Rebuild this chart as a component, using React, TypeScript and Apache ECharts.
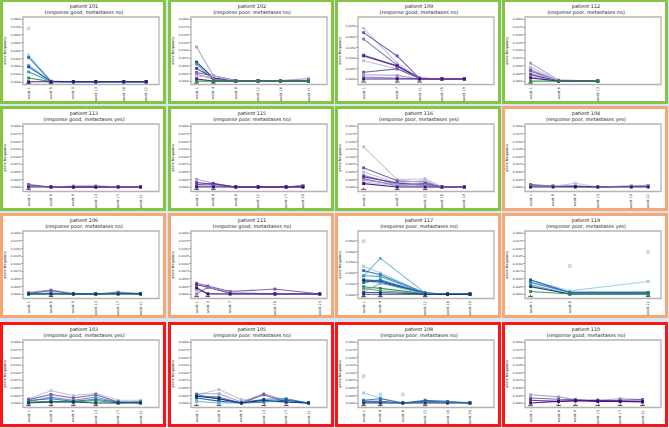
import React, { useEffect, useRef } from "react";
import * as echarts from "echarts";

// ---------- colours ----------
const P1 = "#3f007d", P2 = "#54278f", P3 = "#6a51a3", P4 = "#807dba", P5 = "#9e9ac8", P6 = "#bcbddc";
const B1 = "#08306b", B2 = "#08519c", B3 = "#2171b5", B4 = "#4292c6", B5 = "#6baed6", B6 = "#9ecae1";
const G1 = "#238b45", G2 = "#41ab5d";

// ---------- titles ----------
const patientIds = ["101", "102", "109", "112", "113", "115", "116", "104", "106", "111", "117", "119", "103", "105", "108", "110"];
const patientInfo = [
  "response good, metastases no", "response poor, metastases no", "response good, metastases no", "response poor, metastases no",
  "response good, metastases yes", "response poor, metastases no", "response poor, metastases yes", "response poor, metastases yes",
  "response poor, metastases no", "response good, metastases no", "response poor, metastases no", "response poor, metastases yes",
  "response good, metastases yes", "response poor, metastases no", "response poor, metastases no", "response good, metastases no",
];
const patientGroup = ["g", "g", "g", "g", "g", "g", "g", "o", "o", "o", "o", "o", "r", "r", "r", "r"];

// ---------- y tick sets ----------
const ticksDefault = [0, 0.0025, 0.005, 0.0075, 0.01, 0.0125, 0.015, 0.0175, 0.02];
const ticks101 = [0, 0.01, 0.02, 0.03, 0.04, 0.05, 0.06, 0.07, 0.08];
const ticks109 = [0, 0.005, 0.01, 0.015, 0.02, 0.025];
const ticks117 = [0, 0.01, 0.02, 0.03, 0.04, 0.05];

// ---------- patient 101 ----------
const p101Weeks = [1, 5, 9, 13, 18, 22];
const p101Colors = [B6, B3, B5, B2, B4, G1, P1];
const p101Values = [
  [0.034, 0.0008, 0, 0, 0, 0],
  [0.031, 0.0005, 0, 0, 0, 0],
  [0.021, 0.0005, 0, 0, 0, 0],
  [0.019, 0.0003, 0, 0, 0, 0],
  [0.0126, 0.0003, 0, 0, 0, 0],
  [0.0048, 0.0002, 0, 0, 0, 0],
  [0, 0, 0, 0, 0, 0],
];
const p101Points = [[1, 0.068]];
const p101Marks = [1, 5];

// ---------- patient 102 ----------
const p102Weeks = [1, 4, 8, 12, 16, 21];
const p102Colors = [P5, B1, B4, P2, P3, P4, P6, P1, G1];
const p102Values = [
  [0.011, 0.0017, 0.0002, 0.0002, 0.0002, 0.0008],
  [0.0061, 0.001, 0, 0.0002, 0.0002, 0],
  [0.0055, 0.0004, 0, 0, 0, 0],
  [0.0041, 0.001, 0, 0.0002, 0.0002, 0],
  [0.0028, 0.0017, 0.0002, 0, 0, 0],
  [0.0023, 0.0006, 0, 0, 0, 0],
  [0.0014, 0.0017, 0, 0, 0, 0],
  [0.0007, 0, 0, 0, 0, 0],
  [0, 0, 0, 0, 0, 0],
];
const p102Points: number[][] = [];
const p102Marks = [1, 4];

// ---------- patient 109 ----------
const p109Weeks = [1, 7, 11, 15, 19];
const p109Colors = [P6, P3, P4, P2, P2, P6, P3, P5, P4, P1];
const p109Values = [
  [0.0239, 0.0075, 0.0004, 0, 0],
  [0.0219, 0.0109, 0.0003, 0, 0],
  [0.0189, 0.0065, 0.0002, 0, 0],
  [0.0112, 0.0063, 0.0005, 0, 0],
  [0.0109, 0.006, 0.0003, 0, 0],
  [0.0086, 0.0048, 0.0004, 0, 0],
  [0.0032, 0.0048, 0.0002, 0, 0],
  [0.002, 0.0017, 0, 0, 0],
  [0.0009, 0.0005, 0, 0, 0],
  [0, 0, 0, 0, 0],
];
const p109Points: number[][] = [];
const p109Marks = [1, 7, 11];

// ---------- patient 112 ----------
const p112Weeks = [1, 6, 13];
const p112Colors = [P5, P6, P4, P3, P6, P2, P5, P1, G1];
const p112Values = [
  [0.0058, 0.0003, 0],
  [0.0045, 0.0002, 0],
  [0.0037, 0, 0],
  [0.0032, 0, 0],
  [0.0025, 0.0003, 0],
  [0.0021, 0, 0],
  [0.0014, 0, 0],
  [0.001, 0, 0],
  [0, 0, 0],
];
const p112Points: number[][] = [];
const p112Marks = [1];

// ---------- patient 113 ----------
const p113Weeks = [1, 5, 9, 13, 17, 21];
const p113Colors = [P3, P2, P6, P1];
const p113Values = [
  [0.0008, 0, 0, 0, 0, 0],
  [0.0005, 0, 0, 0, 0, 0],
  [0.0003, 0, 0.0004, 0.0005, 0, 0],
  [0, 0, 0, 0, 0, 0],
];
const p113Points: number[][] = [];
const p113Marks = [1];

// ---------- patient 115 ----------
const p115Weeks = [1, 4, 8, 12, 17, 20];
const p115Colors = [P5, P3, P2, P4, P1];
const p115Values = [
  [0.0025, 0.0012, 0, 0, 0, 0.0004],
  [0.0015, 0.0008, 0, 0, 0, 0.0003],
  [0.0008, 0.0011, 0, 0, 0, 0],
  [0.0003, 0.0004, 0, 0, 0, 0.0005],
  [0, 0, 0, 0, 0, 0],
];
const p115Points: number[][] = [];
const p115Marks = [1, 4];

// ---------- patient 116 ----------
const p116Weeks = [1, 7, 12, 15, 19];
const p116Colors = [P6, P3, P6, P4, P2, P3, P5, P6, P1];
const p116Values = [
  [0.0132, 0.0024, 0.0027, 0, 0],
  [0.0063, 0.002, 0.0016, 0, 0],
  [0.0049, 0.0013, 0.0022, 0, 0],
  [0.0038, 0.0009, 0.0011, 0, 0],
  [0.0033, 0.0013, 0.0005, 0, 0],
  [0.0027, 0.0004, 0.0011, 0, 0],
  [0.0022, 0.0009, 0.0005, 0, 0],
  [0.0016, 0.0004, 0, 0, 0],
  [0.0011, 0, 0, 0, 0],
];
const p116Points: number[][] = [];
const p116Marks = [1, 7, 12];

// ---------- patient 104 ----------
const p104Weeks = [1, 5, 9, 13, 19, 22];
const p104Colors = [G1, P3, P6, P1];
const p104Values = [
  [0.0008, 0.0003, 0.0002, 0, 0.0002, 0.0002],
  [0.0005, 0.0003, 0.0003, 0, 0.0003, 0.0005],
  [0.0002, 0.0002, 0.0012, 0, 0.0004, 0.0003],
  [0, 0, 0, 0, 0, 0],
];
const p104Points: number[][] = [];
const p104Marks: number[] = [];

// ---------- patient 106 ----------
const p106Weeks = [1, 5, 9, 13, 17, 21];
const p106Colors = [P5, P3, B4, G1, B1];
const p106Values = [
  [0.0005, 0.0013, 0.0002, 0, 0.0006, 0.0002],
  [0.0002, 0.0011, 0, 0, 0.0004, 0],
  [0, 0.0003, 0, 0, 0.0003, 0],
  [0, 0, 0, 0, 0, 0.0001],
  [0, 0, 0, 0, 0, 0],
];
const p106Points: number[][] = [];
const p106Marks = [5];

// ---------- patient 111 ----------
const p111Weeks = [1, 3, 7, 15, 23];
const p111Colors = [P3, P2, P5, P4, P1];
const p111Values = [
  [0.0035, 0.0026, 0.0008, 0.0016, 0],
  [0.003, 0.0022, 0.0002, 0, 0],
  [0.0013, 0.0002, 0, 0, 0],
  [0, 0.0022, 0.0004, 0, 0],
  [0.002, 0, 0, 0, 0],
];
const p111Points: number[][] = [];
const p111Marks = [1, 3];

// ---------- patient 117 ----------
const p117Weeks = [1, 4, 12, 16, 20];
const p117Colors = [B6, B5, B3, B4, B2, B1, B3, G1, G2, B5, P2, B1];
const p117Values = [
  [0.0261, 0.0197, 0.0012, 0, 0],
  [0.0172, 0.0334, 0.0012, 0, 0],
  [0.022, 0.0182, 0.001, 0, 0],
  [0.0172, 0.0166, 0.0008, 0, 0],
  [0.0134, 0.0124, 0.001, 0, 0],
  [0.0124, 0.0111, 0.0008, 0, 0],
  [0.0108, 0.0134, 0.0006, 0, 0],
  [0.007, 0.0054, 0.0005, 0, 0],
  [0.0054, 0.0032, 0.0003, 0, 0],
  [0.0022, 0.0102, 0.0005, 0, 0],
  [0.0016, 0.0016, 0.0002, 0, 0],
  [0, 0, 0, 0, 0],
];
const p117Points = [[1, 0.0494]];
const p117Marks = [1, 4, 12];

// ---------- patient 119 ----------
const p119Weeks = [1, 8, 22];
const p119Colors = [B6, B2, B3, B4, B1, G1];
const p119Values = [
  [0.0046, 0.001, 0.0041],
  [0.0046, 0.0005, 0.0005],
  [0.0038, 0.0005, 0.0005],
  [0.003, 0, 0.0002],
  [0.0024, 0, 0],
  [0.0008, 0, 0],
];
const p119Points = [[8, 0.0092], [22, 0.0137]];
const p119Marks = [1, 22];

// ---------- patient 103 ----------
const p103Weeks = [1, 5, 9, 13, 17, 21];
const p103Colors = [P6, P3, P4, B3, G1, B1];
const p103Values = [
  [0.0014, 0.004, 0.0024, 0.0032, 0.0009, 0.0009],
  [0.0011, 0.0028, 0.0016, 0.0027, 0.0003, 0.0003],
  [0.0005, 0.0019, 0.0009, 0.0019, 0.0002, 0.0002],
  [0.0008, 0.0014, 0.0005, 0.0012, 0.0003, 0],
  [0.0003, 0.0005, 0.0003, 0.0008, 0, 0.0003],
  [0, 0.0003, 0.0003, 0, 0, 0],
];
const p103Points: number[][] = [];
const p103Marks = [1, 5, 9, 13];

// ---------- patient 105 ----------
const p105Weeks = [1, 5, 9, 13, 17, 21];
const p105Colors = [P6, P5, P3, B3, B2, B5, B1];
const p105Values = [
  [0.0027, 0.0044, 0.0011, 0.0006, 0.0003, 0],
  [0.003, 0.003, 0.0003, 0.003, 0.0009, 0],
  [0.0022, 0.0019, 0, 0.0027, 0.0003, 0],
  [0.0027, 0.0014, 0, 0.0012, 0.0014, 0],
  [0.0016, 0.0006, 0, 0.0003, 0.0009, 0],
  [0.0005, 0, 0, 0.0006, 0.0003, 0],
  [0.0022, 0.0014, 0, 0.0009, 0.0003, 0],
];
const p105Points: number[][] = [];
const p105Marks = [1, 5, 13, 17];

// ---------- patient 108 ----------
const p108Weeks = [1, 4, 8, 12, 16, 20];
const p108Colors = [B6, B3, B2, P5, B1];
const p108Values = [
  [0.0033, 0.0016, 0, 0.0003, 0, 0],
  [0.0009, 0.0014, 0, 0.0009, 0.0005, 0],
  [0.0005, 0.0005, 0, 0.0005, 0.0003, 0],
  [0.0002, 0.0002, 0, 0.0002, 0.0002, 0.0002],
  [0, 0, 0, 0, 0, 0],
];
const p108Points = [[1, 0.0088], [4, 0.0028], [8, 0.0028]];
const p108Marks = [1, 4, 12];

// ---------- patient 110 ----------
const p110Weeks = [1, 6, 9, 13, 17, 21];
const p110Colors = [P5, P3, P2, P1];
const p110Values = [
  [0.0027, 0.002, 0.0011, 0.0009, 0.0014, 0.0011],
  [0.0016, 0.0012, 0.0011, 0.0005, 0.0009, 0.0011],
  [0.0009, 0.0005, 0.0007, 0.0009, 0.0005, 0.0005],
  [0, 0.0005, 0.0007, 0.0005, 0.0005, 0.0003],
];
const p110Points: number[][] = [];
const p110Marks = [1, 6, 9, 13, 17, 21];

const panels = [
  { weeks: p101Weeks, colors: p101Colors, values: p101Values, points: p101Points, marks: p101Marks, ticks: ticks101, yMin: -0.0035, yMax: 0.0826 },
  { weeks: p102Weeks, colors: p102Colors, values: p102Values, points: p102Points, marks: p102Marks, ticks: ticksDefault, yMin: -0.0011, yMax: 0.0207 },
  { weeks: p109Weeks, colors: p109Colors, values: p109Values, points: p109Points, marks: p109Marks, ticks: ticks109, yMin: -0.0026, yMax: 0.0293 },
  { weeks: p112Weeks, colors: p112Colors, values: p112Values, points: p112Points, marks: p112Marks, ticks: ticksDefault, yMin: -0.0011, yMax: 0.0207 },
  { weeks: p113Weeks, colors: p113Colors, values: p113Values, points: p113Points, marks: p113Marks, ticks: ticksDefault, yMin: -0.0015, yMax: 0.0207 },
  { weeks: p115Weeks, colors: p115Colors, values: p115Values, points: p115Points, marks: p115Marks, ticks: ticksDefault, yMin: -0.0015, yMax: 0.0207 },
  { weeks: p116Weeks, colors: p116Colors, values: p116Values, points: p116Points, marks: p116Marks, ticks: ticksDefault, yMin: -0.0015, yMax: 0.0207 },
  { weeks: p104Weeks, colors: p104Colors, values: p104Values, points: p104Points, marks: p104Marks, ticks: ticksDefault, yMin: -0.0015, yMax: 0.0207 },
  { weeks: p106Weeks, colors: p106Colors, values: p106Values, points: p106Points, marks: p106Marks, ticks: ticksDefault, yMin: -0.0015, yMax: 0.0207 },
  { weeks: p111Weeks, colors: p111Colors, values: p111Values, points: p111Points, marks: p111Marks, ticks: ticksDefault, yMin: -0.0015, yMax: 0.0207 },
  { weeks: p117Weeks, colors: p117Colors, values: p117Values, points: p117Points, marks: p117Marks, ticks: ticks117, yMin: -0.004, yMax: 0.0589 },
  { weeks: p119Weeks, colors: p119Colors, values: p119Values, points: p119Points, marks: p119Marks, ticks: ticksDefault, yMin: -0.0015, yMax: 0.0207 },
  { weeks: p103Weeks, colors: p103Colors, values: p103Values, points: p103Points, marks: p103Marks, ticks: ticksDefault, yMin: -0.0015, yMax: 0.0207 },
  { weeks: p105Weeks, colors: p105Colors, values: p105Values, points: p105Points, marks: p105Marks, ticks: ticksDefault, yMin: -0.0015, yMax: 0.0207 },
  { weeks: p108Weeks, colors: p108Colors, values: p108Values, points: p108Points, marks: p108Marks, ticks: ticksDefault, yMin: -0.0015, yMax: 0.0207 },
  { weeks: p110Weeks, colors: p110Colors, values: p110Values, points: p110Points, marks: p110Marks, ticks: ticksDefault, yMin: -0.0015, yMax: 0.0207 },
];

// ---------- layout ----------
const W = 669, H = 428;
const COLS = [0, 168, 335, 502];
const ROWS = [-1, 106, 213, 322];
const PW = 166, PH = 105;
const FONT = "DejaVu Sans";
const BORDER: Record<string, string> = { g: "#86c443", o: "#f6a874", r: "#ff1414" };

export default function App() {
  const ref = useRef<HTMLDivElement>(null);
  useEffect(() => {
    document.body.style.margin = "0";
    const chart = echarts.init(ref.current!, null, { renderer: "svg" });
    const grids: any[] = [], xAxes: any[] = [], yAxes: any[] = [], series: any[] = [], graphics: any[] = [];
    panels.forEach((p, i) => {
      const r = Math.floor(i / 4), c = i % 4;
      const px = COLS[c], py = ROWS[r];
      graphics.push({
        type: "rect", z: -10, silent: true,
        shape: { x: px + 1.5, y: py + 1.5, width: PW - 3, height: PH - 3 },
        style: { fill: "#ffffff", stroke: BORDER[patientGroup[i]], lineWidth: 3 },
      });
      graphics.push({
        type: "text", z: 10, silent: true, x: px + PW / 2 + 1, y: py + 4.8,
        style: { text: "patient " + patientIds[i], align: "center", verticalAlign: "top", fontSize: 4.9, fontFamily: FONT, fill: "#222" },
      });
      graphics.push({
        type: "text", z: 10, silent: true, x: px + PW / 2 + 1, y: py + 10.6,
        style: { text: "(" + patientInfo[i] + ")", align: "center", verticalAlign: "top", fontSize: 4.9, fontFamily: FONT, fill: "#222" },
      });
      grids.push({
        left: px + 23, top: py + 18, width: 136, height: 67.5,
        show: true, backgroundColor: "#ffffff", borderColor: "#b4b4b4", borderWidth: 1.3,
      });
      xAxes.push({
        type: "value", gridIndex: i, min: 0, max: 24.3,
        axisLine: { show: false }, splitLine: { show: false },
        axisTick: { show: true, customValues: p.weeks, length: 2, lineStyle: { color: "#444", width: 0.5 } },
        axisLabel: {
          customValues: p.weeks, rotate: 90, fontSize: 3.5, fontFamily: FONT, color: "#333", margin: 2.5,
          formatter: (v: number) => "week " + v,
        },
      });
      yAxes.push({
        type: "value", gridIndex: i, min: p.yMin, max: p.yMax,
        axisLine: { show: false }, splitLine: { show: false },
        axisTick: { show: true, customValues: p.ticks, length: 1.5, lineStyle: { color: "#444", width: 0.5 } },
        axisLabel: {
          customValues: p.ticks, fontSize: 2.9, fontFamily: FONT, color: "#333", margin: 2.2,
          formatter: (v: number) => v.toFixed(4),
        },
        name: "allele frequency", nameLocation: "middle", nameGap: 14, nameRotate: 90,
        nameTextStyle: { fontSize: 3.5, fontFamily: FONT, color: "#222" },
      });
      p.values.forEach((vals, k) => {
        const col = p.colors[k];
        series.push({
          type: "line", xAxisIndex: i, yAxisIndex: i, silent: true,
          data: p.weeks.map((w, j) => [w, vals[j]]),
          symbol: "rect", symbolSize: 2.9, showSymbol: true,
          lineStyle: { width: 1.1, color: col, opacity: 0.88 },
          itemStyle: { color: col, opacity: 0.95 },
        });
      });
      if (p.points.length) {
        series.push({
          type: "scatter", xAxisIndex: i, yAxisIndex: i, silent: true,
          data: p.points, symbol: "rect", symbolSize: 3,
          itemStyle: { color: "#c6dbef", borderColor: "#9ecae1", borderWidth: 0.5, opacity: 0.9 },
        });
      }
      if (p.marks.length) {
        series.push({
          type: "scatter", xAxisIndex: i, yAxisIndex: i, silent: true,
          data: p.marks.map((w) => [w, p.yMin * 0.55]), symbol: "rect", symbolSize: [4.5, 1.3],
          itemStyle: { color: "#333" },
        });
      }
    });
    chart.setOption({
      animation: false,
      backgroundColor: "#d6e6f2",
      grid: grids, xAxis: xAxes, yAxis: yAxes, series, graphic: graphics,
    });
    return () => chart.dispose();
  }, []);
  return <div ref={ref} style={{ position: "fixed", left: 0, top: 0, width: W, height: H }} />;
}
